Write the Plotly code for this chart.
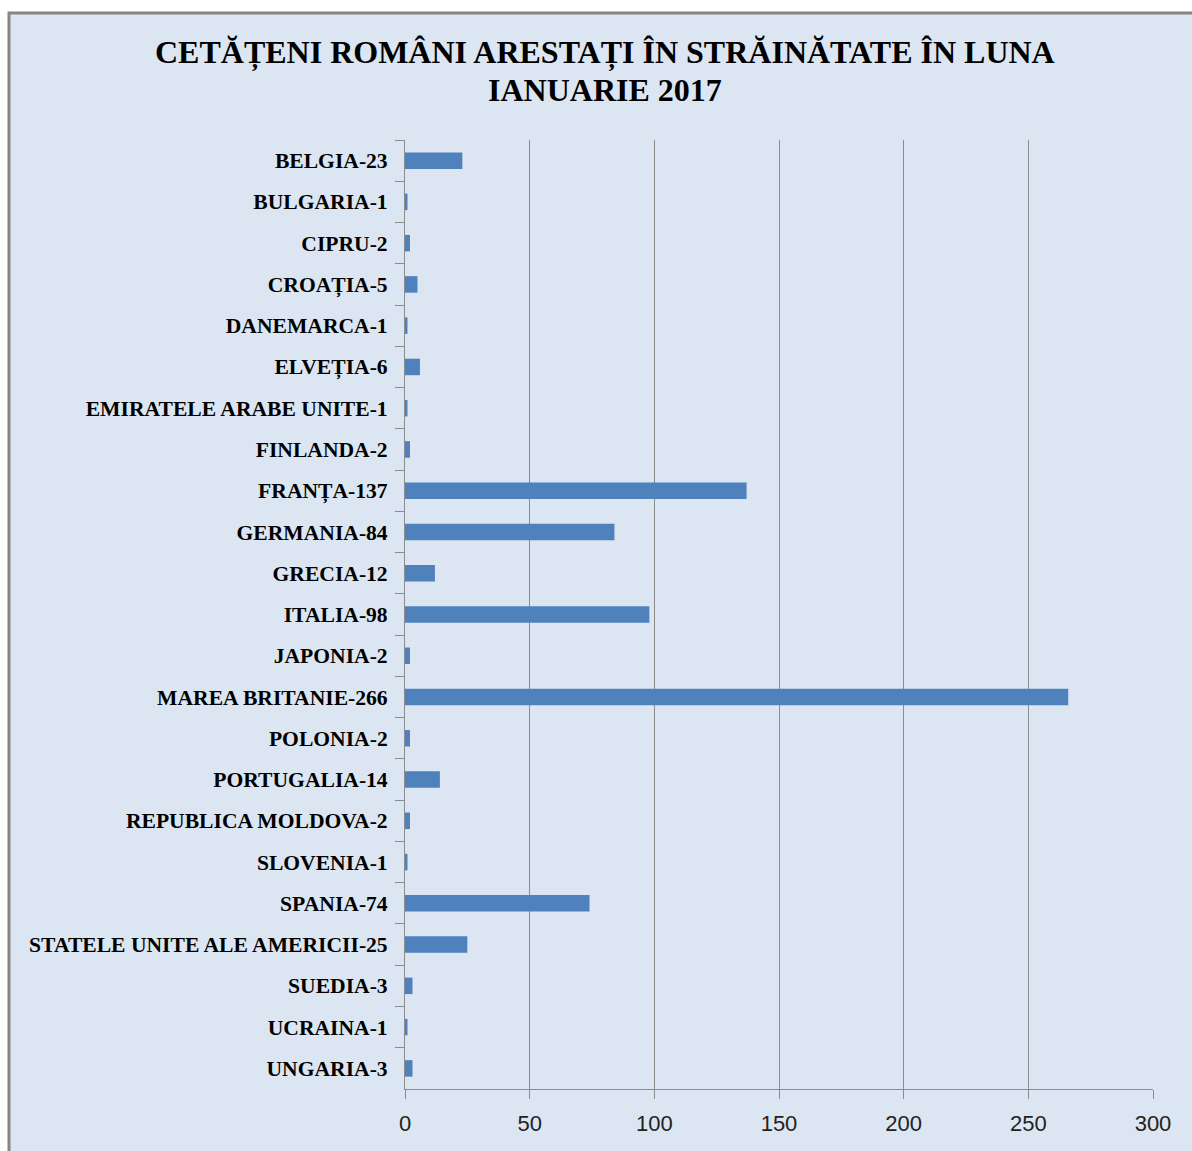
import plotly.graph_objects as go

categories = ["BELGIA-23", "BULGARIA-1", "CIPRU-2", "CROAȚIA-5", "DANEMARCA-1", "ELVEȚIA-6",
              "EMIRATELE ARABE UNITE-1", "FINLANDA-2", "FRANȚA-137", "GERMANIA-84", "GRECIA-12",
              "ITALIA-98", "JAPONIA-2", "MAREA BRITANIE-266", "POLONIA-2", "PORTUGALIA-14",
              "REPUBLICA MOLDOVA-2", "SLOVENIA-1", "SPANIA-74", "STATELE UNITE ALE AMERICII-25",
              "SUEDIA-3", "UCRAINA-1", "UNGARIA-3"]
values = [23, 1, 2, 5, 1, 6, 1, 2, 137, 84, 12, 98, 2, 266, 2, 14, 2, 1, 74, 25, 3, 1, 3]
x_ticks = [0, 50, 100, 150, 200, 250, 300]
title_lines = ["CETĂȚENI ROMÂNI ARESTAȚI ÎN STRĂINĂTATE ÎN LUNA", "IANUARIE 2017"]

W, H = 1192, 1151
L, R, T, B = 405, 39, 140, 62
PW, PH = W - L - R, H - T - B


def px_x(x):
    return (x - L) / PW


def px_y(y):
    return 1 - (y - T) / PH


fig = go.Figure(go.Bar(
    y=categories, x=values, orientation="h",
    marker=dict(color="#4f81bd", line=dict(width=0)),
))

annotations = []
for i, line in enumerate(title_lines):
    annotations.append(dict(
        text="<b>" + line + "</b>", xref="paper", yref="paper",
        x=px_x(605), y=px_y(52 + 38 * i), xanchor="center", yanchor="middle",
        showarrow=False, font=dict(family="Liberation Serif", size=32, color="black"),
    ))

fig.update_layout(
    width=W, height=H,
    margin=dict(l=L, r=R, t=T, b=B),
    paper_bgcolor="white",
    plot_bgcolor="rgba(0,0,0,0)",
    bargap=0.6,
    showlegend=False,
    annotations=annotations,
    shapes=[dict(type="rect", xref="paper", yref="paper",
                 x0=px_x(9), x1=px_x(1230), y0=px_y(1190), y1=px_y(13),
                 fillcolor="#dce6f2", line=dict(color="#868686", width=3), layer="below")],
)

fig.update_xaxes(
    range=[0, 300], tickvals=x_ticks, showgrid=True, gridcolor="#8c8c8c", gridwidth=1,
    zeroline=False, showline=True, linecolor="#8c8c8c", linewidth=1,
    ticks="outside", ticklen=9, tickcolor="#8c8c8c", ticklabelstandoff=6,
    tickfont=dict(family="Liberation Sans Narrow, Liberation Sans", size=22, color="#222"),
)
fig.update_yaxes(
    autorange="reversed", showgrid=False, showline=True, linecolor="#8c8c8c", linewidth=1,
    ticks="outside", ticklen=9, tickcolor="#8c8c8c", tickson="boundaries",
    ticklabelstandoff=12,
    tickfont=dict(family="Liberation Serif", size=21.6, color="black", weight="bold"),
)

fig.write_html("out.html", config={"displayModeBar": False},
               post_script="document.body.style.margin='0px';document.body.style.overflow='hidden';")
